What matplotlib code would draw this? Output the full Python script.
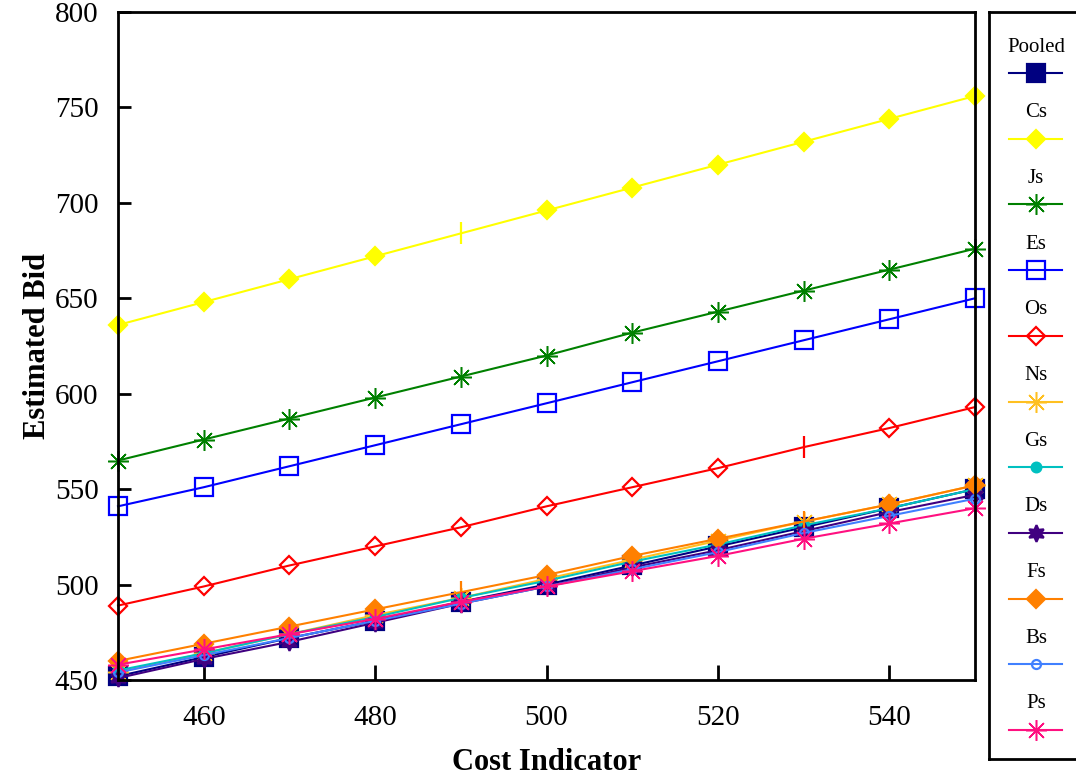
import matplotlib.pyplot as plt
import numpy as np

plt.rcParams["font.family"] = ["Liberation Serif", "DejaVu Serif"]

# ── Datos ────────────────────────────────────────────────────────────────────
cost = [450, 460, 470, 480, 490, 500, 510, 520, 530, 540, 550]

pooled = [452, 462, 472, 481, 491, 500, 510, 520, 530, 540, 550]
cs = [636, 648, 660, 672, 684, 696, 708, 720, 732, 744, 756]
js = [565, 576, 587, 598, 609, 620, 632, 643, 654, 665, 676]
es = [541, 551, 562, 573, 584, 595, 606, 617, 628, 639, 650]
os_ = [489, 499, 510, 520, 530, 541, 551, 561, 572, 582, 593]
ns = [454, 464, 474, 484, 493, 503, 513, 523, 533, 542, 552]
gs = [455, 464, 474, 483, 493, 502, 512, 521, 531, 540, 550]
ds = [451, 461, 470, 480, 490, 499, 509, 518, 528, 538, 547]
fs = [460, 469, 478, 487, 496, 505, 515, 524, 533, 542, 552]
bs = [454, 463, 472, 481, 490, 499, 508, 517, 527, 536, 545]
ps = [458, 466, 474, 482, 491, 499, 507, 515, 524, 532, 540]

x_ticks = [460, 480, 500, 520, 540]
y_ticks = [450, 500, 550, 600, 650, 700, 750, 800]

# nombre, valores, color, marcador, tamaño, relleno, puntos sin marcador
series = [
    ("Pooled", pooled, "#000080", "s", 13, True, []),
    ("Cs", cs, "#FFFF00", "D", 9, True, [4]),
    ("Js", js, "#008000", (8, 2, 0), 15, True, []),
    ("Es", es, "#0000FF", "s", 13, False, []),
    ("Os", os_, "#FF0000", "D", 9.5, False, [8]),
    ("Ns", ns, "#FFC020", (8, 2, 0), 15, True, []),
    ("Gs", gs, "#00C0C0", "o", 7, True, []),
    ("Ds", ds, "#400080", (6, 1, 0), 12, True, []),
    ("Fs", fs, "#FF8000", "D", 9, True, [4, 8]),
    ("Bs", bs, "#4080FF", "o", 6.5, False, []),
    ("Ps", ps, "#FF1080", (8, 2, 0), 15, True, []),
]

W, H = 1076, 780
fig = plt.figure(figsize=(W / 100, H / 100), dpi=100)
ax = fig.add_axes([118 / W, 1 - 680 / H, (975 - 118) / W, (680 - 12) / H])

estilos = []
for nombre, vals, color, mk, ms, lleno, saltar in series:
    xv = np.array(cost)
    yv = np.array(vals)
    marcas = [i for i in range(len(xv)) if i not in saltar]
    asterisco = isinstance(mk, tuple) and mk[1] == 2
    kw = dict(color=color, marker=mk, markersize=ms, linewidth=1.5,
              markeredgecolor=color, markeredgewidth=1.1 if asterisco else 1.6,
              markerfacecolor=color if lleno else "none")
    ax.plot(xv, yv, markevery=marcas, clip_on=False, **kw)
    if saltar:
        ax.plot(xv[saltar], yv[saltar], linestyle="none", marker="|",
                markersize=16, markeredgewidth=1.6, color=color, clip_on=False)
    estilos.append((nombre, kw))

ax.set_xlim(450, 550)
ax.set_ylim(450, 800)
ax.set_xticks(x_ticks)
ax.set_yticks(y_ticks)
ax.tick_params(axis="x", direction="in", length=11, width=2, labelsize=21, pad=18)
ax.tick_params(axis="y", direction="in", length=9, width=2, labelsize=21, pad=14)
for s in ax.spines.values():
    s.set_linewidth(2)
ax.set_xlabel("Cost Indicator", fontsize=22, fontweight="bold", labelpad=12)
ax.set_ylabel("Estimated Bid", fontsize=22, fontweight="bold", labelpad=2)

# ── Leyenda en caja aparte ───────────────────────────────────────────────────
lax = fig.add_axes([989 / W, 1 - 759 / H, (1110 - 989) / W, (759 - 12) / H])
lax.set_xlim(989, 1110)
lax.set_ylim(759, 12)
lax.set_xticks([])
lax.set_yticks([])
for s in lax.spines.values():
    s.set_linewidth(2)
for i, (nombre, kw) in enumerate(estilos):
    yt = 47 + 65.7 * i
    yl = 73 + 65.7 * i
    lax.text(1036, yt, nombre, ha="center", va="center", fontsize=15)
    lax.plot([1009, 1036, 1062], [yl, yl, yl], markevery=[1], **kw)

fig.savefig("out.png", dpi=100)
